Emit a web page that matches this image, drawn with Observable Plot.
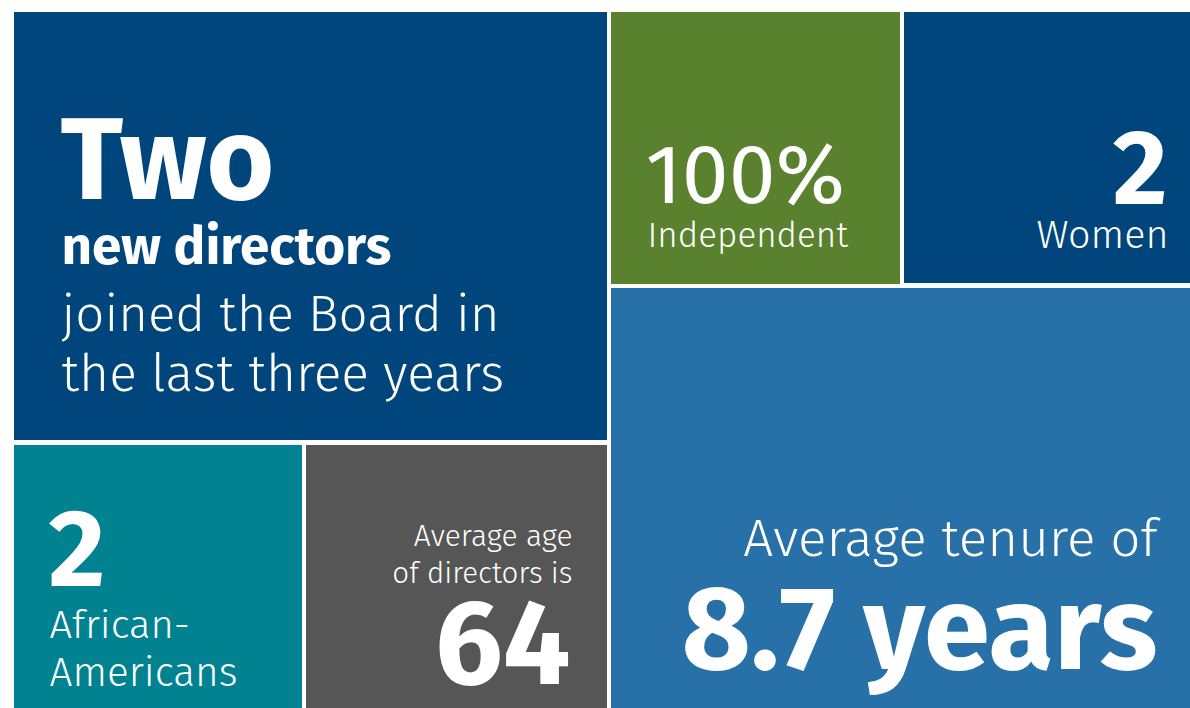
<!DOCTYPE html>
<html>
<head>
<meta charset="utf-8">
<script src="https://cdn.jsdelivr.net/npm/d3@7"></script>
<script src="https://cdn.jsdelivr.net/npm/@observablehq/plot@0.6"></script>
<style>
  html, body { margin: 0; padding: 0; background: #ffffff; }
  #chart svg { display: block; }
</style>
</head>
<body>
<div id="chart"></div>
<script>
// Tiles (layout in pixel units of the 1190x708 canvas)
const tileNames = ["newDirectors", "independent", "women", "tenure", "africanAmericans", "age"];
const tileX1 = [14, 611, 904, 611, 14, 306];
const tileX2 = [607, 900, 1190, 1190, 302, 607];
const tileY1 = [12, 12, 12, 288, 445, 445];
const tileY2 = [440, 284, 283, 708, 708, 708];
const tileColors = ["#00467c", "#5a822e", "#00467c", "#2870a8", "#008291", "#565656"];

// Headline figures
const figureText = ["Two", "100%", "2", "2", "64", "8.7 years"];
const figureX = [60, 645, 1167, 48, 570, 1157];
const figureY = [198, 202, 203, 585, 683, 668];
const figureAnchor = ["start", "start", "end", "start", "end", "end"];
const figureSize = [116, 84, 106, 110, 120, 119];
const figureWeight = ["bold", "normal", "bold", "bold", "bold", "bold"];

// Labels
const labelText = ["new directors", "joined the Board in", "the last three years", "Independent", "Women",
  "African-", "Americans", "Average age", "of directors is", "Average tenure of"];
const labelX = [61, 61, 61, 647, 1168, 49, 49, 572, 572, 1157];
const labelY = [263, 330, 390, 246, 247, 637, 685, 545, 582, 555];
const labelAnchor = ["start", "start", "start", "start", "end", "start", "start", "end", "end", "end"];
const labelSize = [53, 51, 51.5, 35, 39.5, 40, 40.5, 30, 29.5, 53];
const labelWeight = ["bold", "300", "300", "300", "300", "300", "300", "300", "300", "300"];

const tiles = tileNames.map((name, i) => ({name, x1: tileX1[i], x2: tileX2[i], y1: tileY1[i], y2: tileY2[i], color: tileColors[i]}));
const figures = figureText.map((t, i) => ({t, x: figureX[i], y: figureY[i], anchor: figureAnchor[i], size: figureSize[i], weight: figureWeight[i]}));
const labels = labelText.map((t, i) => ({t, x: labelX[i], y: labelY[i], anchor: labelAnchor[i], size: labelSize[i], weight: labelWeight[i]}));

const font = "'Fira Sans', 'Open Sans', 'Noto Sans', sans-serif";

function textMarks(rows) {
  return rows.map(r => Plot.text([r], {
    x: "x", y: "y", text: "t",
    textAnchor: r.anchor,
    lineAnchor: "bottom",
    fontSize: r.size,
    fontWeight: r.weight,
    fontFamily: font,
    fill: "#ffffff"
  }));
}

const chart = Plot.plot({
  width: 1190,
  height: 708,
  margin: 0,
  style: {background: "#ffffff", fontFamily: font},
  x: {domain: [0, 1190], range: [0, 1190], axis: null},
  y: {domain: [0, 708], range: [0, 708], axis: null},
  marks: [
    Plot.rect(tiles, {x1: "x1", x2: "x2", y1: "y1", y2: "y2", fill: "color"}),
    ...textMarks(figures),
    ...textMarks(labels)
  ]
});

document.getElementById("chart").appendChild(chart);
</script>
</body>
</html>
